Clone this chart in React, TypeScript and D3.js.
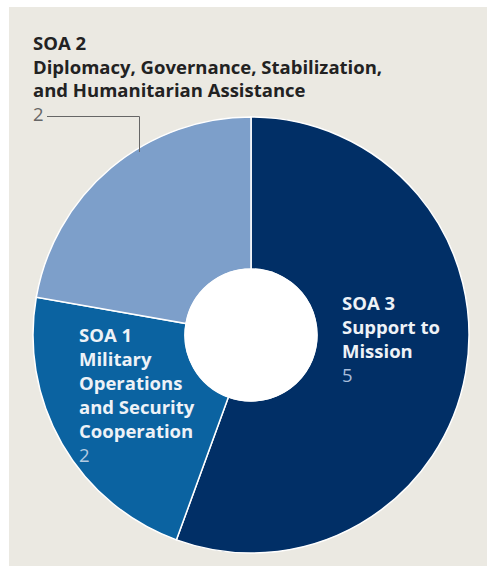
import React, { useEffect, useRef } from 'react';
import * as d3 from 'd3';

// slice order runs clockwise from 12 o'clock
const categories = ['SOA 3', 'SOA 1', 'SOA 2'];
const descriptions = [
  ['Support to', 'Mission'],
  ['Military', 'Operations', 'and Security', 'Cooperation'],
  ['Diplomacy, Governance, Stabilization,', 'and Humanitarian Assistance'],
];
const values = [5, 2, 2];
const colors = ['#012f66', '#0b63a1', '#7d9fca'];

const W = 488;
const H = 567;
const FONT = '"Open Sans", "Noto Sans", sans-serif';

export default function App() {
  const svgRef = useRef<SVGSVGElement>(null);

  useEffect(() => {
    if (!svgRef.current) return;
    const svg = d3.select(svgRef.current);
    svg.selectAll('*').remove();

    // panel background
    svg.append('rect').attr('width', W).attr('height', H).attr('fill', '#fff');
    svg.append('rect')
      .attr('x', 9).attr('y', 7)
      .attr('width', 478).attr('height', 559)
      .attr('fill', '#ebe9e2');

    const cx = 251, cy = 335;
    const outerR = 218, innerR = 66;

    const pie = d3.pie<number>().sort(null).value(d => d);
    const arcs = pie(values);
    const arc = d3.arc<d3.PieArcDatum<number>>().innerRadius(innerR).outerRadius(outerR);

    const g = svg.append('g').attr('transform', `translate(${cx},${cy})`);
    g.selectAll('path.slice')
      .data(arcs)
      .enter()
      .append('path')
      .attr('class', 'slice')
      .attr('d', arc)
      .attr('fill', (_, i) => colors[i])
      .attr('stroke', '#fff')
      .attr('stroke-width', 1.5);

    // white hole in the middle
    g.append('circle').attr('r', innerR + 0.5).attr('fill', '#fff');

    const lineH = 24;
    const fs = 18.5;

    // label blocks: [x, first baseline, text colour, value colour]
    const labelPos: [number, number, string, string][] = [
      [342, 310, '#eef2f7', '#a8bddb'],
      [79, 342, '#eef2f7', '#b3cbe2'],
      [33, 50, '#222', '#666'],
    ];

    categories.forEach((cat, i) => {
      const [x, y, tc, vc] = labelPos[i];
      const lh = i === 2 ? 23.5 : lineH;
      const t = svg.append('text')
        .attr('font-family', FONT)
        .attr('font-size', fs);
      const lines = [cat, ...descriptions[i]];
      lines.forEach((ln, j) => {
        t.append('tspan')
          .attr('x', x)
          .attr('y', y + j * lh)
          .attr('font-weight', 700)
          .attr('fill', tc)
          .text(ln);
      });
      t.append('tspan')
        .attr('x', x)
        .attr('y', y + lines.length * lh)
        .attr('font-weight', 400)
        .attr('fill', vc)
        .text(String(values[i]));
    });

    // leader for the outside label
    svg.append('path')
      .attr('d', 'M47,116.5 H139.5 V152')
      .attr('fill', 'none')
      .attr('stroke', '#666')
      .attr('stroke-width', 1);
  }, []);

  return (
    <svg
      ref={svgRef}
      width={W}
      height={H}
      style={{ position: 'absolute', left: 0, top: 0 }}
    />
  );
}
